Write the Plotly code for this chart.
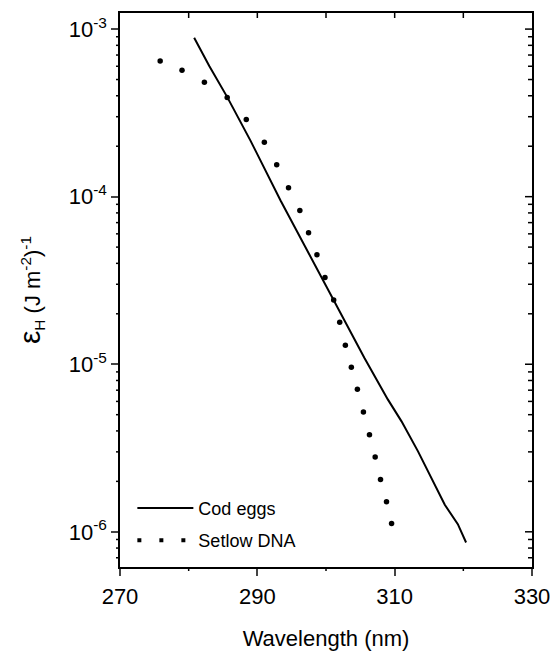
import plotly.graph_objects as go

# Data
cod_wl = [280.8, 283.0, 285.6, 289.0, 293.4, 297.0, 301.2, 305.6, 309.0, 311.0,
          313.4, 314.9, 316.3, 317.3, 319.2, 320.4]
cod_eps = [8.87e-4, 6.03e-4, 3.94e-4, 2.16e-4, 9.46e-5, 5.01e-5, 2.38e-5, 1.09e-5,
           6.17e-6, 4.56e-6, 3.02e-6, 2.29e-6, 1.74e-6, 1.45e-6, 1.11e-6, 8.63e-7]

setlow_wl = [275.85, 279.03, 282.29, 285.61, 288.39, 291.02, 292.82, 294.54, 296.19,
             297.46, 298.68, 299.85, 301.12, 302.00, 302.82, 303.69, 304.57, 305.45,
             306.33, 307.16, 307.94, 308.81, 309.55]
setlow_eps = [6.46e-4, 5.68e-4, 4.82e-4, 3.90e-4, 2.89e-4, 2.11e-4, 1.55e-4, 1.13e-4,
              8.28e-5, 6.08e-5, 4.50e-5, 3.29e-5, 2.42e-5, 1.78e-5, 1.30e-5, 9.59e-6,
              7.08e-6, 5.18e-6, 3.79e-6, 2.80e-6, 2.05e-6, 1.51e-6, 1.12e-6]

x_ticks = [270, 290, 310, 330]
x_minor = [280, 300, 320]
x_top_ticks = [280, 290, 300, 310, 320]
y_ticks = [1e-6, 1e-5, 1e-4, 1e-3]
y_ticktext = ["10<sup>-6</sup>", "10<sup>-5</sup>", "10<sup>-4</sup>", "10<sup>-3</sup>"]
y_minor = [m * 10.0 ** e for e in (-7, -6, -5, -4, -3) for m in range(2, 10)]

FONT = "Liberation Sans, Arial, sans-serif"
X_RANGE = [270, 330]
Y_RANGE = [-6.21, -2.904]
Y_LO, Y_HI = 10 ** Y_RANGE[0], 10 ** Y_RANGE[1]

fig = go.Figure()
fig.add_trace(go.Scatter(
    x=cod_wl, y=cod_eps, mode="lines", name="Cod eggs",
    line=dict(color="black", width=2), legendgroup="a"))
# Setlow markers drawn on the mirrored (top/right) axes, which share the same ranges
fig.add_trace(go.Scatter(
    x=setlow_wl, y=setlow_eps, mode="markers", name="Setlow DNA",
    marker=dict(color="black", size=5.5), showlegend=False, legendgroup="b",
    xaxis="x2", yaxis="y2"))
# legend proxy (draws nothing on the plot)
fig.add_trace(go.Scatter(
    x=[None], y=[None], mode="lines", name="Setlow DNA",
    line=dict(color="black", width=4, dash="4px,18px"), legendgroup="b"))

# tick decorations (axis furniture, not data)
tick_style = dict(color="black", width=1.5)
shapes = []
for v in y_minor:
    if Y_LO < v < Y_HI:
        shapes.append(dict(type="line", xref="paper", yref="y", xsizemode="pixel",
                           xanchor=0, x0=0, x1=-4, y0=v, y1=v, line=tick_style))
        shapes.append(dict(type="line", xref="paper", yref="y", xsizemode="pixel",
                           xanchor=1, x0=0, x1=-4, y0=v, y1=v, line=tick_style))
for v in y_ticks:
    shapes.append(dict(type="line", xref="paper", yref="y", xsizemode="pixel",
                       xanchor=1, x0=0, x1=-7, y0=v, y1=v, line=tick_style))
for v in x_minor:
    shapes.append(dict(type="line", xref="x", yref="paper", ysizemode="pixel",
                       yanchor=0, y0=0, y1=-4, x0=v, x1=v, line=tick_style))
for v in x_top_ticks:
    shapes.append(dict(type="line", xref="x", yref="paper", ysizemode="pixel",
                       yanchor=1, y0=0, y1=-5, x0=v, x1=v, line=tick_style))

fig.update_layout(
    width=553, height=654,
    margin=dict(l=120, r=21, t=13, b=87),
    paper_bgcolor="white", plot_bgcolor="white",
    font=dict(family=FONT, color="black", size=20),
    showlegend=True,
    shapes=shapes,
    legend=dict(x=0.03, y=0.015, xanchor="left", yanchor="bottom",
                bgcolor="rgba(0,0,0,0)", font=dict(size=18),
                traceorder="grouped", tracegroupgap=6, itemwidth=56),
    xaxis=dict(range=X_RANGE, tickvals=x_ticks, ticks="outside", ticklen=7,
               tickwidth=1.5, showline=True, linewidth=1.5, linecolor="black",
               showgrid=False, zeroline=False, mirror=False, ticklabelstandoff=2,
               automargin=False,
               title=dict(text="Wavelength (nm)", font=dict(size=22), standoff=22),
               tickfont=dict(size=22)),
    xaxis2=dict(range=X_RANGE, overlaying="x", anchor="y2", side="top",
                ticks="", showticklabels=False, showline=True, linewidth=1.5,
                linecolor="black", showgrid=False, zeroline=False, automargin=False),
    yaxis=dict(type="log", range=Y_RANGE, tickvals=y_ticks, ticktext=y_ticktext,
               ticks="outside", ticklen=7, tickwidth=1.5, showline=True, linewidth=1.5,
               linecolor="black", showgrid=False, zeroline=False, automargin=False,
               title=dict(text="<span style='font-size:30px'>ε</span><sub>H</sub> (J m<sup>-2</sup>)<sup>-1</sup>",
                          font=dict(size=22), standoff=22),
               tickfont=dict(size=22)),
    yaxis2=dict(type="log", range=Y_RANGE, overlaying="y", anchor="x2", side="right",
                ticks="", showticklabels=False, showline=True, linewidth=1.5,
                linecolor="black", showgrid=False, zeroline=False, automargin=False),
)

fig.write_html("out.html")
